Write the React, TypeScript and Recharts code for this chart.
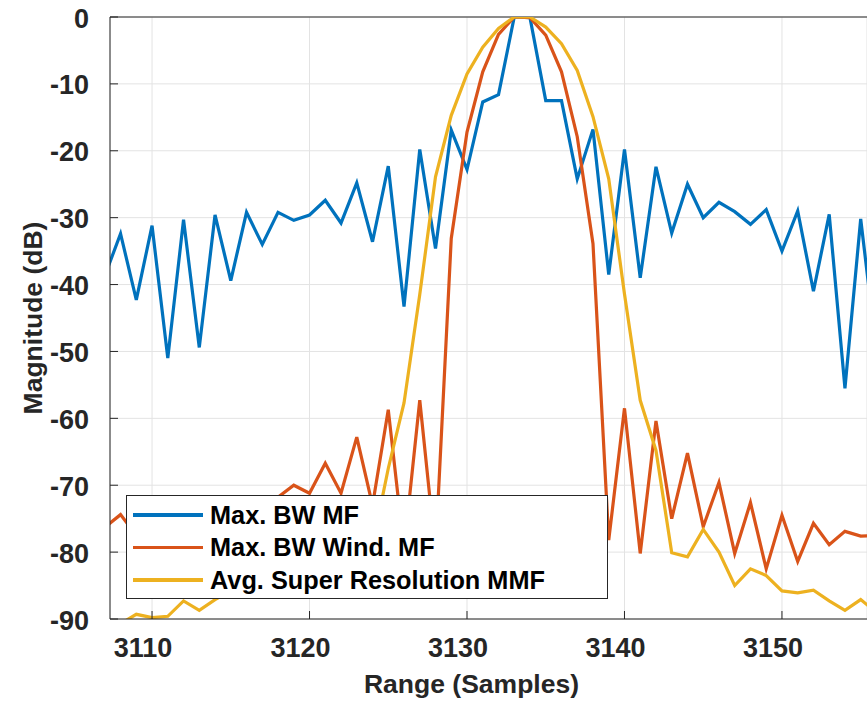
import { LineChart, Line, XAxis, YAxis, CartesianGrid, Label, ReferenceLine } from 'recharts';

const samples = [
  3107, 3108, 3109, 3110, 3111, 3112, 3113, 3114, 3115, 3116,
  3117, 3118, 3119, 3120, 3121, 3122, 3123, 3124, 3125, 3126,
  3127, 3128, 3129, 3130, 3131, 3132, 3133, 3134, 3135, 3136,
  3137, 3138, 3139, 3140, 3141, 3142, 3143, 3144, 3145, 3146,
  3147, 3148, 3149, 3150, 3151, 3152, 3153, 3154, 3155, 3156,
];

const maxBwMf = [
  -38.7, -32.4, -42.3, -31.2, -51.0, -30.3, -49.4, -29.6, -39.4, -29.2,
  -34.0, -29.2, -30.4, -29.6, -27.4, -30.8, -24.8, -33.6, -22.3, -43.3,
  -19.8, -34.6, -16.9, -22.8, -12.7, -11.6, 0, -0.1, -12.5, -12.5,
  -24.2, -16.8, -38.5, -19.8, -39.0, -22.4, -32.3, -25.0, -30.0, -27.7,
  -29.1, -31.0, -28.8, -35.0, -29.0, -41.0, -29.5, -55.5, -30.2, -50.0,
];

const maxBwWindMf = [
  -76.3, -74.4, -77.5, -74.5, -78.5, -73.5, -77.0, -72.5, -75.5, -72.0,
  -74.5, -71.8, -70.0, -71.2, -66.7, -71.2, -62.8, -73.0, -58.7, -79.6,
  -57.3, -80.0, -33.1, -17.2, -8.2, -2.6, 0, -0.1, -2.7, -8.2,
  -17.9, -33.9, -78.2, -58.5, -80.2, -60.4, -75.0, -65.2, -76.2, -69.6,
  -80.2, -72.6, -82.5, -74.5, -81.4, -75.7, -78.9, -76.9, -77.6, -77.5,
];

const avgSuperResMmf = [
  -91.5, -90.7, -89.3, -89.8, -89.6, -87.3, -88.7, -87.1, -85.8, -86.6,
  -84.5, -85.2, -83.0, -83.8, -81.6, -82.4, -80.2, -79.0, -67.5, -57.7,
  -41.5, -23.9, -14.7, -8.5, -4.5, -1.7, 0, 0, -1.5, -4.0,
  -8.0, -14.9, -24.2, -41.4, -57.3, -64.8, -80.1, -80.7, -76.6, -80.0,
  -85.0, -82.5, -83.5, -85.8, -86.1, -85.7, -87.3, -88.7, -87.1, -89.0,
];

const xTicks = [3110, 3120, 3130, 3140, 3150];
const yTicks = [-90, -80, -70, -60, -50, -40, -30, -20, -10, 0];

const series = [
  { key: 'mf', name: 'Max. BW MF', color: '#0072BD' },
  { key: 'wind', name: 'Max. BW Wind. MF', color: '#D95319' },
  { key: 'mmf', name: 'Avg. Super Resolution MMF', color: '#EDB120' },
];

const data = samples.map((s, i) => ({
  x: s,
  mf: maxBwMf[i],
  wind: maxBwWindMf[i],
  mmf: avgSuperResMmf[i],
}));

const FONT = '"Liberation Sans", Arial, Helvetica, sans-serif';
const AXIS = '#262626';

const XTick = ({ x, y, payload }: any) => (
  <text x={x - 9} y={y} dy={18.5} textAnchor="middle" fontFamily={FONT} fontSize={27} fontWeight="bold" fill={AXIS}>
    {payload.value}
  </text>
);

const YTick = ({ x, y, payload }: any) => (
  <text x={x} y={y} dy={10.5} textAnchor="end" fontFamily={FONT} fontSize={27} fontWeight="bold" fill={AXIS}>
    {payload.value}
  </text>
);

// legend box drawn over the plot, like matlab's
const LegendBox = () => (
  <div
    style={{
      position: 'absolute',
      left: 126,
      top: 494.5,
      width: 482,
      height: 104,
      boxSizing: 'border-box',
      border: '1px solid #262626',
      background: '#fff',
      paddingTop: 3,
      fontFamily: FONT,
    }}
  >
    {series.map((s) => (
      <div key={s.key} style={{ display: 'flex', alignItems: 'center', height: 32.5 }}>
        <span style={{ display: 'inline-block', width: 70, height: 3.5, background: s.color, marginLeft: 6 }} />
        <span style={{ marginLeft: 7, fontSize: 25.3, fontWeight: 'bold', color: '#000', lineHeight: '32px' }}>
          {s.name}
        </span>
      </div>
    ))}
  </div>
);

export default function App() {
  return (
    <div style={{ position: 'absolute', left: 0, top: 0, width: 867, height: 701, background: '#fff' }}>
      <LineChart width={867} height={701} data={data} margin={{ top: 17, right: 0, bottom: 0, left: 0 }}>
        <CartesianGrid stroke="#e3e3e3" strokeWidth={1} />
        <XAxis
          dataKey="x"
          type="number"
          domain={[3107.33, 3155.4]}
          allowDataOverflow
          ticks={xTicks}
          height={82}
          tickSize={-8}
          tickMargin={27}
          stroke={AXIS}
          tick={<XTick />}
        >
          <Label
            content={({ viewBox }: any) => (
              <text
                x={viewBox.x + viewBox.width / 2 - 17}
                y={viewBox.y + 74}
                textAnchor="middle"
                fontFamily={FONT}
                fontSize={26.5}
                fontWeight="bold"
                fill={AXIS}
              >
                Range (Samples)
              </text>
            )}
          />
        </XAxis>
        <XAxis
          xAxisId="top"
          orientation="top"
          type="number"
          domain={[3107.33, 3155.4]}
          allowDataOverflow
          ticks={xTicks}
          height={0}
          tickSize={-8}
          tick={false}
          stroke={AXIS}
        />
        <YAxis
          type="number"
          domain={[-90, 0]}
          allowDataOverflow
          ticks={yTicks}
          width={110}
          tickSize={-8}
          tickMargin={29}
          stroke={AXIS}
          tick={<YTick />}
        >
          <Label
            content={({ viewBox }: any) => {
              const cx = 42;
              const cy = viewBox.y + viewBox.height / 2;
              return (
                <text
                  x={cx}
                  y={cy}
                  transform={`rotate(-90, ${cx}, ${cy})`}
                  textAnchor="middle"
                  fontFamily={FONT}
                  fontSize={26.5}
                  fontWeight="bold"
                  fill={AXIS}
                >
                  Magnitude (dB)
                </text>
              );
            }}
          />
        </YAxis>
        <YAxis
          yAxisId="right"
          orientation="right"
          type="number"
          domain={[-90, 0]}
          allowDataOverflow
          ticks={yTicks}
          width={0}
          tickSize={-8}
          tick={false}
          stroke={AXIS}
        />
        {/* top edge of the axes box */}
        <ReferenceLine y={0} stroke={AXIS} strokeWidth={1} />
        {series.map((s) => (
          <Line
            key={s.key}
            type="linear"
            dataKey={s.key}
            name={s.name}
            stroke={s.color}
            strokeWidth={3.2}
            dot={false}
            isAnimationActive={false}
          />
        ))}
      </LineChart>
      <LegendBox />
    </div>
  );
}
